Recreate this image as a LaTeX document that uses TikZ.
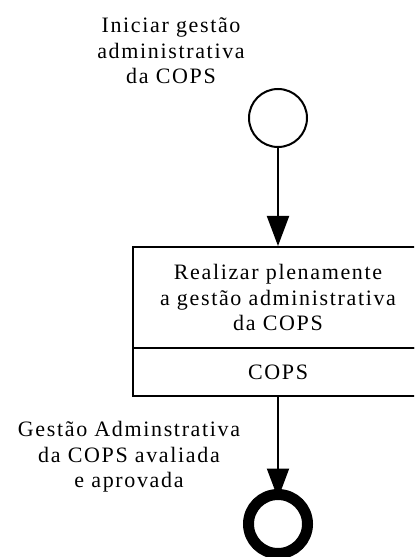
\documentclass[tikz,border=0pt]{standalone}
\usepackage{fontspec}
\setmainfont{Liberation Serif}[LetterSpace=7.5]
\usetikzlibrary{arrows.meta}
\tikzset{
  evstart/.style={circle, draw, line width=2bp, minimum size=58bp, inner sep=0pt},
  evend/.style={circle, draw, line width=11bp, minimum size=59bp, inner sep=0pt, outer sep=0pt},
  taskpart/.style={rectangle, draw, line width=2bp, minimum width=290bp, align=center, inner sep=0pt},
  lbl/.style={align=center, inner sep=0pt},
  flow/.style={draw, line width=2bp, -{Triangle[length=30bp,width=22bp]}},
  every node/.style={font=\fontsize{22bp}{25.5bp}\selectfont}
}
\begin{document}
\begin{tikzpicture}[x=1bp,y=-1bp]
\clip (0,0) rectangle (414,557);
\fill[white] (0,0) rectangle (414,557);
\node[evstart] (start) at (278,118) {};
\node[lbl] (startlbl) at (171,51) {Iniciar gestão\\administrativa\\da COPS};
\node[taskpart, minimum height=101bp] (tasktop) at (278,297.5) {Realizar plenamente\\a gestão administrativa\\da COPS};
\node[taskpart, minimum height=48bp] (taskrole) at (278,372) {COPS};
\node[evend] (end) at (278,524) {};
\node[lbl] (endlbl) at (129,457) {Gestão Adminstrativa\\da COPS avaliada\\e aprovada};
\draw[flow] (start) -- (tasktop);
\draw[flow, shorten >=-4bp] (taskrole) -- (end);
\end{tikzpicture}
\end{document}
